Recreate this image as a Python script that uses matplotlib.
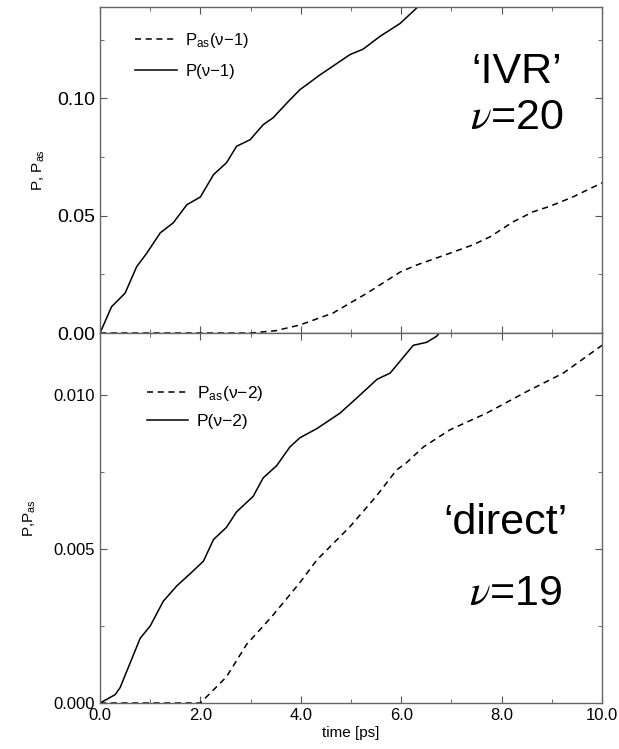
import matplotlib.pyplot as plt
from matplotlib.ticker import MultipleLocator, FormatStrFormatter

plt.rcParams['font.family'] = ['Liberation Sans', 'DejaVu Sans']
plt.rcParams['mathtext.fontset'] = 'custom'
plt.rcParams['mathtext.rm'] = 'Liberation Sans'
plt.rcParams['mathtext.it'] = 'STIXGeneral:italic'

# top panel, v=20 ('IVR')
t_p1 = [0.0, 0.23, 0.5, 0.73, 0.93, 1.2, 1.46, 1.73, 2.0, 2.26, 2.52, 2.72, 2.99,
        3.25, 3.45, 3.72, 3.98, 4.38, 4.98, 5.24, 5.58, 5.98, 6.33, 6.6]
p1 = [0.0, 0.0112, 0.017, 0.0283, 0.034, 0.0427, 0.047, 0.0547, 0.058, 0.0675, 0.0726,
      0.0796, 0.0824, 0.0888, 0.0918, 0.098, 0.1037, 0.110, 0.1187, 0.121, 0.1265,
      0.132, 0.139, 0.145]
t_pas1 = [0.0, 1.0, 2.0, 3.0, 3.5, 3.98, 4.64, 5.32, 5.98, 6.31, 6.97, 7.43, 7.77,
          8.23, 8.63, 8.96, 9.42, 10.0]
pas1 = [0.0, 0.0, 0.0, 0.0, 0.001, 0.0034, 0.0085, 0.017, 0.026, 0.029, 0.034, 0.0376,
        0.041, 0.0474, 0.0517, 0.054, 0.058, 0.064]

# bottom panel, v=19 ('direct')
t_p2 = [0.0, 0.3, 0.4, 0.6, 0.8, 1.0, 1.26, 1.53, 1.8, 2.06, 2.26, 2.52, 2.72, 3.05,
        3.25, 3.52, 3.78, 3.98, 4.32, 4.78, 5.12, 5.52, 5.78, 6.24, 6.51, 6.71, 6.9]
p2 = [0.0, 0.00027, 0.0005, 0.0013, 0.0021, 0.0025, 0.0033, 0.0038, 0.0042, 0.0046,
      0.0053, 0.0057, 0.0062, 0.0067, 0.0073, 0.0077, 0.0083, 0.0086, 0.0089, 0.0094,
      0.0099, 0.0105, 0.0107, 0.0116, 0.0117, 0.0119, 0.0123]
t_pas2 = [0.0, 1.0, 2.0, 2.52, 2.92, 3.42, 3.98, 4.32, 4.98, 5.5, 5.91, 6.11, 6.44,
          6.97, 7.7, 8.5, 9.23, 10.0]
pas2 = [0.0, 0.0, 0.0, 0.00085, 0.0019, 0.0028, 0.0039, 0.00464, 0.00572, 0.0067,
        0.00756, 0.0078, 0.0083, 0.00886, 0.0094, 0.0101, 0.0107, 0.0116]

fig = plt.figure(figsize=(6.19, 7.49), dpi=100)
ax1 = fig.add_axes([0.1616, 0.5554, 0.8109, 0.4353])
ax2 = fig.add_axes([0.1616, 0.0614, 0.8109, 0.4940])

dash = (0, (4, 3))
ax1.plot(t_pas1, pas1, color='k', lw=1.1, ls=dash, label=r'P$_{\rm as}$(ν−1)')
ax1.plot(t_p1, p1, color='k', lw=1.1, label='P(ν−1)')
ax2.plot(t_pas2, pas2, color='k', lw=1.1, ls=dash, label=r'P$_{\rm as}$(ν−2)')
ax2.plot(t_p2, p2, color='k', lw=1.1, label='P(ν−2)')

ax1.set_ylim(0, 0.139)
ax2.set_ylim(0, 0.0120)
for ax in (ax1, ax2):
    ax.set_xlim(0, 10)
    ax.xaxis.set_major_locator(MultipleLocator(2))
    ax.xaxis.set_minor_locator(MultipleLocator(1))
    ax.tick_params(which='both', direction='in', top=True, right=True,
                   color='#555555', labelsize=12)
    ax.tick_params(which='major', length=5)
    ax.tick_params(which='minor', length=3)
    for s in ax.spines.values():
        s.set_color('#666666')
        s.set_linewidth(1.0)

ax1.tick_params(axis='y', labelsize=14)

leg1 = ax1.legend(loc='upper left', frameon=False, fontsize=12, handlelength=2.5,
                  handletextpad=0.5, labelspacing=0.83, borderpad=0, borderaxespad=0,
                  bbox_to_anchor=(0.07, 0.926))
leg2 = ax2.legend(loc='upper left', frameon=False, fontsize=12.5, handlelength=2.4,
                  handletextpad=0.5, labelspacing=0.6, borderpad=0, borderaxespad=0,
                  bbox_to_anchor=(0.093, 0.862))

ax1.yaxis.set_major_locator(MultipleLocator(0.05))
ax1.yaxis.set_minor_locator(MultipleLocator(0.025))
ax1.yaxis.set_major_formatter(FormatStrFormatter('%.2f'))
ax1.tick_params(labelbottom=False)
ax2.yaxis.set_major_locator(MultipleLocator(0.005))
ax2.yaxis.set_minor_locator(MultipleLocator(0.0025))
ax2.yaxis.set_major_formatter(FormatStrFormatter('%.3f'))
ax2.xaxis.set_major_formatter(FormatStrFormatter('%.1f'))

ax1.set_ylabel(r'P, P$_{\rm as}$', fontsize=11, labelpad=7)
ax2.set_ylabel(r'P,P$_{\rm as}$', fontsize=11, labelpad=11)
ax2.set_xlabel('time [ps]', fontsize=11, labelpad=2)

ax1.text(0.83, 0.80, '‘IVR’', transform=ax1.transAxes, fontsize=31, ha='center', va='center')
ax1.text(0.83, 0.66, r'$\nu$=20', transform=ax1.transAxes, fontsize=31, ha='center', va='center')
ax2.text(0.808, 0.486, '‘direct’', transform=ax2.transAxes, fontsize=31, ha='center', va='center')
ax2.text(0.827, 0.295, r'$\nu$=19', transform=ax2.transAxes, fontsize=31, ha='center', va='center')

fig.savefig('out.png', dpi=100)
